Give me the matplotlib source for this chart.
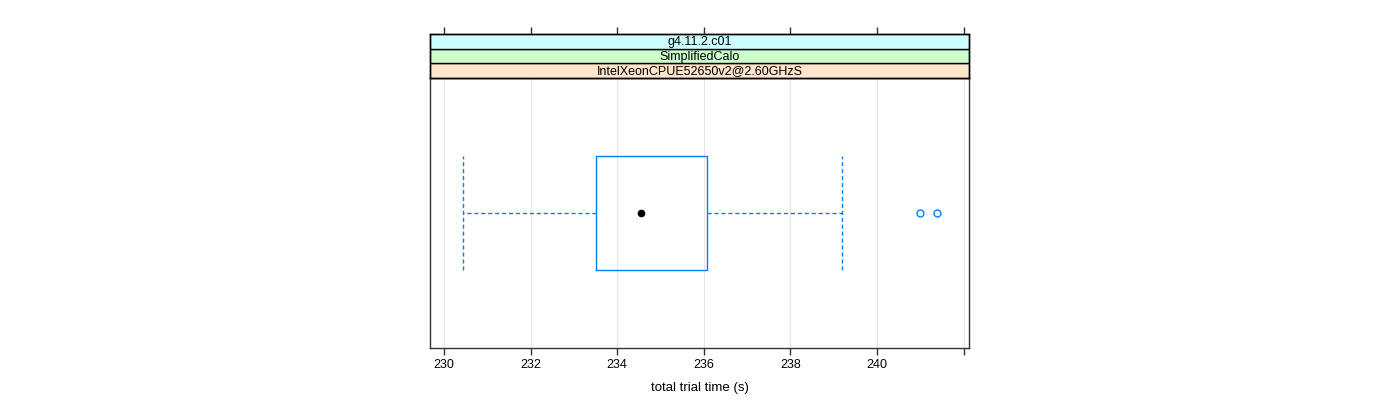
import matplotlib
matplotlib.use("Agg")
import matplotlib.pyplot as plt
from matplotlib.patches import Rectangle

matplotlib.rcParams.update({
    "font.family": ["Liberation Sans", "DejaVu Sans"],
    "font.size": 9,
})

# box statistics
whis_lo = 230.44
q1 = 233.50
median = 234.55
q3 = 236.07
whis_hi = 239.18
outliers = [240.98, 241.39]

xticks = [230, 232, 234, 236, 238, 240, 242]
xticklabels = ["230", "232", "234", "236", "238", "240", ""]
strips = ["IntelXeonCPUE52650v2@2.60GHzS", "SimplifiedCalo", "g4.11.2.c01"]
strip_colors = ["#ffe5cc", "#ccffcc", "#ccffff"]

BLUE = "#0080ff"
W, H = 1400, 400
XMIN, XMAX = 229.68, 242.12

fig = plt.figure(figsize=(14, 4), dpi=100)

left, right = 430, 969
top_plot, bottom_plot = 78, 348
ax = fig.add_axes([left / W, 1 - bottom_plot / H, (right - left) / W, (bottom_plot - top_plot) / H])

stats = [{
    "whislo": whis_lo, "q1": q1, "med": median, "q3": q3, "whishi": whis_hi,
    "fliers": outliers,
}]
ax.bxp(stats, positions=[1], widths=0.42, capwidths=0.42, orientation="horizontal",
       showfliers=True, patch_artist=False,
       boxprops=dict(color=BLUE, linewidth=1),
       whiskerprops=dict(color=BLUE, linewidth=1, linestyle=(0, (3, 2))),
       capprops=dict(color=BLUE, linewidth=1, linestyle=(0, (3, 2))),
       medianprops=dict(visible=False),
       flierprops=dict(marker="o", markerfacecolor="none", markeredgecolor=BLUE,
                       markersize=5, markeredgewidth=1))
ax.plot([median], [1], "o", color="black", markersize=4.5, zorder=5)

ax.set_xlim(XMIN, XMAX)
ax.set_ylim(0.5, 1.5)
ax.set_yticks([])
ax.set_xticks(xticks)
ax.set_xticklabels(xticklabels)
ax.tick_params(axis="x", direction="out", length=5, width=1, color="#333333", pad=3,
               labelsize=9)
for x in xticks:
    ax.axvline(x, color="#e6e6e6", linewidth=0.8, zorder=0)
for sp in ax.spines.values():
    sp.set_color("#333333")
    sp.set_linewidth(1)
ax.set_xlabel("total trial time (s)", fontsize=9.5, labelpad=8)

# strips above the panel
strip_top = 34
sax = fig.add_axes([left / W, 1 - top_plot / H, (right - left) / W, (top_plot - strip_top) / H])
sax.set_xlim(XMIN, XMAX)
sax.set_ylim(0, 3)
for i, (label, col) in enumerate(zip(strips, strip_colors)):
    sax.add_patch(Rectangle((XMIN, i), XMAX - XMIN, 1, facecolor=col,
                            edgecolor="black", linewidth=1, clip_on=False))
    sax.text((XMIN + XMAX) / 2, i + 0.45, label, ha="center", va="center", fontsize=9)
sax.set_yticks([])
sax.xaxis.tick_top()
sax.set_xticks(xticks)
sax.set_xticklabels([])
sax.tick_params(axis="x", direction="out", length=5, width=1, color="#333333")
for sp in sax.spines.values():
    sp.set_color("black")
    sp.set_linewidth(1)

fig.savefig("out.png", dpi=100)
